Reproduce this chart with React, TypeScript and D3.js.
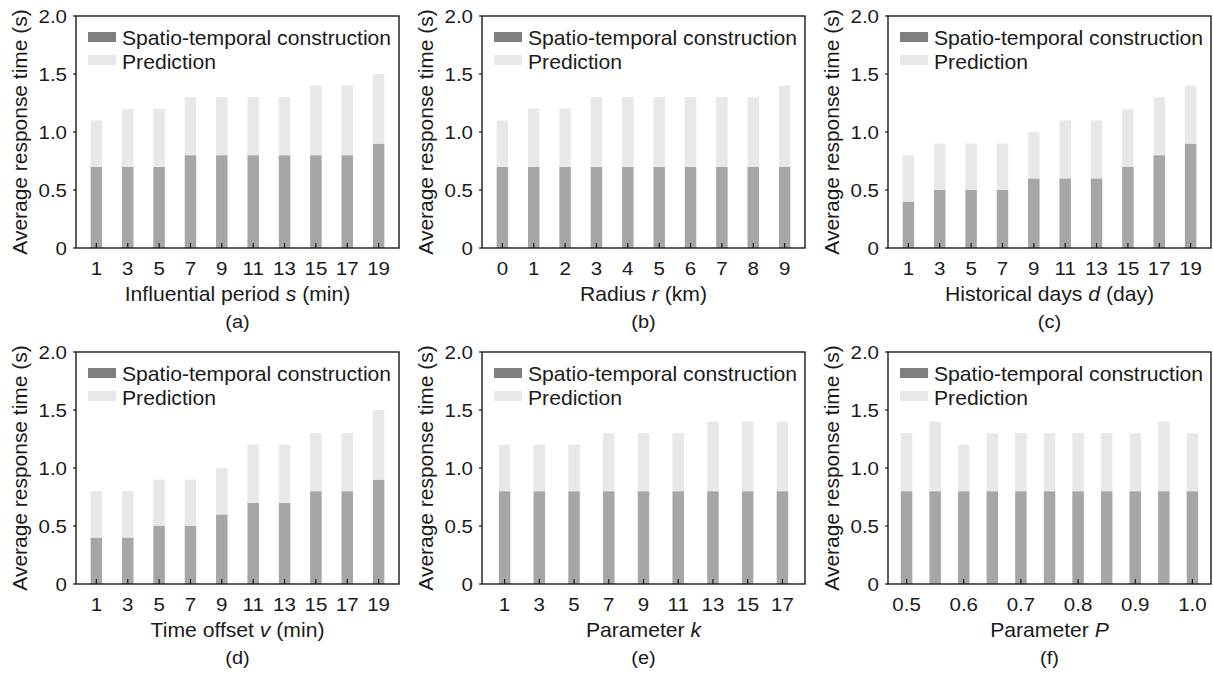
import * as d3 from 'd3'

// x categories for each panel
const periodCats = ['1', '3', '5', '7', '9', '11', '13', '15', '17', '19']
const radiusCats = ['0', '1', '2', '3', '4', '5', '6', '7', '8', '9']
const daysCats = ['1', '3', '5', '7', '9', '11', '13', '15', '17', '19']
const offsetCats = ['1', '3', '5', '7', '9', '11', '13', '15', '17', '19']
const kCats = ['1', '3', '5', '7', '9', '11', '13', '15', '17']
const pCats = ['0.5', '0.55', '0.6', '0.65', '0.7', '0.75', '0.8', '0.85', '0.9', '0.95', '1.0']
const pTicks = ['0.5', '0.6', '0.7', '0.8', '0.9', '1.0']

// spatio-temporal construction time (s)
const periodCons = [0.7, 0.7, 0.7, 0.8, 0.8, 0.8, 0.8, 0.8, 0.8, 0.9]
const radiusCons = [0.7, 0.7, 0.7, 0.7, 0.7, 0.7, 0.7, 0.7, 0.7, 0.7]
const daysCons = [0.4, 0.5, 0.5, 0.5, 0.6, 0.6, 0.6, 0.7, 0.8, 0.9]
const offsetCons = [0.4, 0.4, 0.5, 0.5, 0.6, 0.7, 0.7, 0.8, 0.8, 0.9]
const kCons = [0.8, 0.8, 0.8, 0.8, 0.8, 0.8, 0.8, 0.8, 0.8]
const pCons = [0.8, 0.8, 0.8, 0.8, 0.8, 0.8, 0.8, 0.8, 0.8, 0.8, 0.8]

// prediction time (s), stacked on top
const periodPred = [0.4, 0.5, 0.5, 0.5, 0.5, 0.5, 0.5, 0.6, 0.6, 0.6]
const radiusPred = [0.4, 0.5, 0.5, 0.6, 0.6, 0.6, 0.6, 0.6, 0.6, 0.7]
const daysPred = [0.4, 0.4, 0.4, 0.4, 0.4, 0.5, 0.5, 0.5, 0.5, 0.5]
const offsetPred = [0.4, 0.4, 0.4, 0.4, 0.4, 0.5, 0.5, 0.5, 0.5, 0.6]
const kPred = [0.4, 0.4, 0.4, 0.5, 0.5, 0.5, 0.6, 0.6, 0.6]
const pPred = [0.5, 0.6, 0.4, 0.5, 0.5, 0.5, 0.5, 0.5, 0.5, 0.6, 0.5]

const yTicks = [0, 0.5, 1, 1.5, 2]
const legendLabels = ['Spatio-temporal construction', 'Prediction']
const yTitle = 'Average response time (s)'

const FONT = '"Liberation Sans", Arial, Helvetica, sans-serif'
const SX = 1.08
const W = 323
const H = 232
const BAR_W = 11.5
const CONS_COLOR = '#a6a6a6'
const CONS_LEGEND = '#7f7f7f'
const PRED_COLOR = '#e8e8e8'
const INK = '#1a1a1a'

type PanelProps = {
  left: number
  top: number
  cats: string[]
  ticks?: string[]
  cons: number[]
  pred: number[]
  title: [string, string, string]
  caption: string
}

const Txt = ({ x, y, anchor = 'start', size = 19, rotate = 0, children }: any) => (
  <text
    transform={`translate(${x},${y}) rotate(${rotate}) scale(${SX},1)`}
    textAnchor={anchor}
    fontSize={size}
    fontFamily={FONT}
    fill={INK}
  >
    {children}
  </text>
)

const Panel = ({ left, top, cats, ticks, cons, pred, title, caption }: PanelProps) => {
  const x = d3.scalePoint<string>().domain(cats).range([0, W]).padding(0.65)
  const y = d3.scaleLinear().domain([0, 2]).range([H, 0])
  const tickCats = ticks || cats
  const fmt = (d: number) => (d === 0 ? '0' : d3.format('.1f')(d))

  return (
    <g transform={`translate(${left},${top})`}>
      {cats.map((c, i) => (
        <g key={c}>
          <rect
            x={x(c)! - BAR_W / 2}
            y={y(cons[i])}
            width={BAR_W}
            height={H - y(cons[i])}
            fill={CONS_COLOR}
          />
          <rect
            x={x(c)! - BAR_W / 2}
            y={y(cons[i] + pred[i])}
            width={BAR_W}
            height={y(cons[i]) - y(cons[i] + pred[i])}
            fill={PRED_COLOR}
          />
        </g>
      ))}

      {/* x ticks, pointing in */}
      {tickCats.map((c) => (
        <g key={c}>
          <line x1={x(c)} x2={x(c)} y1={H} y2={H - 5} stroke={INK} strokeWidth={1.2} />
          <Txt x={x(c)} y={H + 26.5} anchor="middle">
            {c}
          </Txt>
        </g>
      ))}

      {/* y ticks, pointing out */}
      {yTicks.map((t) => (
        <g key={t}>
          <line x1={-3} x2={0} y1={y(t)} y2={y(t)} stroke={INK} strokeWidth={1.2} />
          <Txt x={-9} y={y(t) + 6.8} anchor="end">
            {fmt(t)}
          </Txt>
        </g>
      ))}

      <rect x={0} y={0} width={W} height={H} fill="none" stroke={INK} strokeWidth={1.4} />

      {/* legend */}
      <rect x={12} y={16} width={28} height={10} fill={CONS_LEGEND} />
      <rect x={12} y={39} width={28} height={10} fill={PRED_COLOR} />
      <Txt x={46} y={29} size={19.6}>
        {legendLabels[0]}
      </Txt>
      <Txt x={46} y={53} size={19.6}>
        {legendLabels[1]}
      </Txt>

      <Txt x={-49} y={H / 2} anchor="middle" size={19.4} rotate={-90}>
        {yTitle}
      </Txt>

      <Txt x={W / 2} y={H + 53} anchor="middle" size={19.6}>
        {title[0]}
        <tspan fontStyle="italic">{title[1]}</tspan>
        {title[2]}
      </Txt>
      <Txt x={W / 2} y={H + 80} anchor="middle" size={18.5}>
        {caption}
      </Txt>
    </g>
  )
}

const App = () => {
  const cols = [76, 482, 888]
  const rows = [16, 352]
  return (
    <svg
      width={1213}
      height={675}
      style={{ position: 'absolute', left: 0, top: 0, background: '#fff' }}
    >
      <Panel left={cols[0]} top={rows[0]} cats={periodCats} cons={periodCons} pred={periodPred}
        title={['Influential period ', 's', ' (min)']} caption="(a)" />
      <Panel left={cols[1]} top={rows[0]} cats={radiusCats} cons={radiusCons} pred={radiusPred}
        title={['Radius ', 'r', ' (km)']} caption="(b)" />
      <Panel left={cols[2]} top={rows[0]} cats={daysCats} cons={daysCons} pred={daysPred}
        title={['Historical days ', 'd', ' (day)']} caption="(c)" />
      <Panel left={cols[0]} top={rows[1]} cats={offsetCats} cons={offsetCons} pred={offsetPred}
        title={['Time offset ', 'v', ' (min)']} caption="(d)" />
      <Panel left={cols[1]} top={rows[1]} cats={kCats} cons={kCons} pred={kPred}
        title={['Parameter ', 'k', '']} caption="(e)" />
      <Panel left={cols[2]} top={rows[1]} cats={pCats} ticks={pTicks} cons={pCons} pred={pPred}
        title={['Parameter ', 'P', '']} caption="(f)" />
    </svg>
  )
}

export default App
